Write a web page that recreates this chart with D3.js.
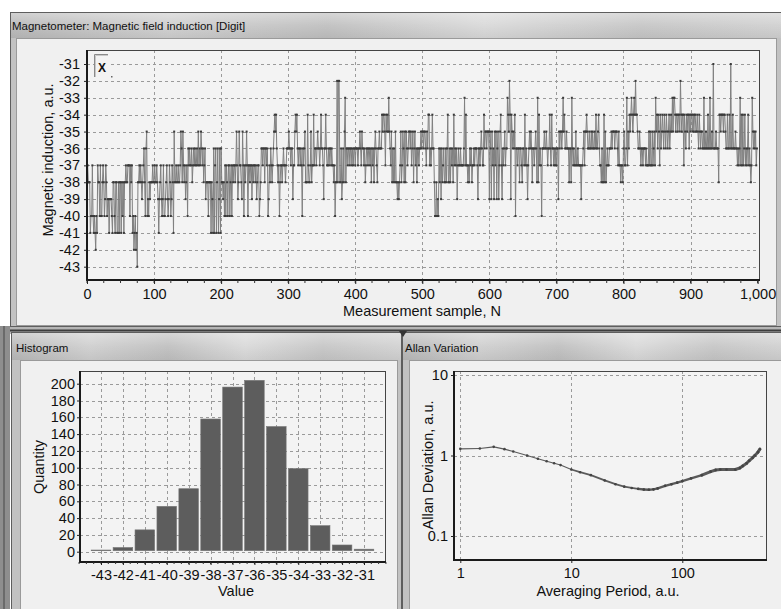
<!DOCTYPE html>
<html><head><meta charset="utf-8">
<script src="https://cdn.jsdelivr.net/npm/d3@7"></script>
<style>
body{margin:0;background:#fff}
svg{display:block}
text{font-family:"Liberation Sans",Arial,sans-serif;fill:#111}
</style>
</head><body>
<svg id="c" width="781" height="609"></svg>
<script>
// ---------- DATA ----------
const samples = [
-37,-37,-38,-38,-38,-41,-40,-40,-37,-40,-41,-40,-41,-42,-40,-41,-37,-38,-38,-40,
-37,-40,-40,-38,-37,-38,-40,-39,-37,-38,-40,-39,-39,-41,-39,-39,-39,-40,-41,-38,
-38,-40,-41,-38,-38,-41,-41,-38,-41,-38,-38,-41,-38,-40,-38,-41,-38,-38,-37,-38,
-38,-37,-37,-37,-40,-37,-38,-37,-41,-40,-42,-41,-40,-42,-41,-43,-38,-38,-37,-38,
-37,-38,-39,-38,-37,-36,-38,-40,-36,-35,-40,-39,-40,-38,-39,-38,-38,-38,-37,-38,
-38,-37,-38,-38,-37,-38,-39,-41,-39,-38,-37,-39,-40,-39,-37,-40,-40,-39,-38,-37,
-39,-40,-39,-37,-38,-40,-39,-37,-38,-41,-35,-38,-38,-37,-38,-38,-37,-38,-38,-37,
-35,-36,-38,-35,-37,-38,-37,-39,-38,-37,-40,-36,-37,-36,-37,-37,-36,-38,-37,-36,
-37,-36,-37,-37,-36,-37,-35,-37,-36,-37,-35,-36,-37,-36,-38,-37,-36,-39,-38,-38,
-38,-40,-38,-38,-38,-41,-38,-39,-41,-36,-41,-37,-36,-41,-38,-36,-41,-39,-36,-41,
-36,-38,-38,-39,-38,-40,-37,-40,-37,-38,-40,-37,-37,-40,-38,-37,-40,-37,-38,-37,
-37,-38,-37,-35,-37,-39,-38,-35,-37,-37,-38,-39,-35,-37,-40,-37,-38,-37,-35,-37,
-40,-37,-37,-38,-37,-37,-39,-37,-38,-37,-37,-38,-37,-39,-38,-37,-37,-40,-39,-38,
-36,-36,-37,-36,-36,-38,-36,-36,-37,-36,-40,-39,-37,-38,-36,-37,-38,-37,-36,-35,
-34,-35,-34,-36,-37,-38,-37,-40,-38,-37,-37,-38,-37,-36,-37,-37,-38,-37,-36,-36,
-36,-35,-36,-36,-37,-36,-36,-39,-37,-37,-35,-34,-35,-34,-36,-37,-36,-36,-37,-36,
-37,-40,-36,-37,-36,-35,-38,-38,-38,-34,-37,-38,-38,-37,-35,-38,-37,-37,-34,-37,
-36,-36,-37,-36,-35,-36,-36,-37,-36,-34,-36,-36,-37,-39,-36,-36,-34,-36,-37,-37,
-36,-37,-36,-36,-37,-36,-37,-37,-38,-37,-40,-38,-38,-32,-38,-32,-32,-38,-38,-36,
-39,-38,-36,-38,-35,-33,-38,-36,-36,-37,-36,-36,-37,-36,-36,-37,-36,-37,-36,-36,
-37,-36,-36,-36,-37,-36,-36,-35,-36,-37,-35,-36,-36,-37,-36,-38,-37,-36,-36,-37,
-36,-36,-37,-36,-38,-36,-37,-36,-38,-36,-35,-36,-37,-38,-36,-36,-35,-36,-36,-36,
-34,-35,-34,-34,-35,-37,-34,-35,-34,-35,-33,-35,-36,-37,-35,-38,-36,-38,-36,-38,
-35,-38,-38,-39,-38,-39,-38,-37,-35,-38,-37,-35,-36,-38,-35,-38,-35,-36,-37,-36,
-35,-35,-36,-35,-37,-36,-35,-38,-36,-35,-37,-36,-38,-36,-36,-37,-36,-36,-35,-36,
-35,-35,-36,-35,-35,-36,-37,-35,-36,-34,-34,-37,-36,-37,-36,-34,-36,-36,-38,-40,
-40,-38,-40,-39,-40,-36,-38,-36,-39,-36,-38,-37,-36,-38,-38,-36,-38,-36,-34,-38,
-38,-36,-38,-36,-37,-36,-38,-34,-37,-36,-37,-36,-39,-37,-36,-37,-37,-36,-37,-37,
-37,-37,-36,-33,-37,-34,-37,-37,-38,-37,-38,-36,-37,-36,-38,-37,-37,-36,-37,-36,
-36,-36,-37,-39,-36,-36,-37,-36,-35,-36,-37,-37,-34,-36,-35,-35,-36,-35,-35,-35,
-39,-35,-36,-39,-35,-37,-36,-39,-35,-37,-35,-39,-36,-35,-39,-37,-35,-34,-37,-39,
-36,-37,-36,-35,-37,-36,-36,-33,-34,-35,-32,-34,-39,-34,-35,-36,-35,-36,-34,-40,
-36,-36,-37,-36,-36,-38,-36,-36,-37,-38,-36,-36,-37,-34,-37,-36,-37,-39,-37,-36,
-35,-36,-35,-36,-38,-36,-36,-37,-36,-35,-36,-38,-33,-38,-34,-37,-36,-37,-40,-36,
-36,-36,-35,-36,-36,-35,-36,-37,-36,-36,-34,-36,-37,-34,-36,-36,-37,-36,-37,-36,
-37,-36,-36,-39,-35,-36,-35,-35,-36,-35,-33,-35,-34,-36,-36,-35,-36,-36,-36,-38,
-36,-36,-38,-33,-36,-37,-36,-37,-37,-35,-37,-37,-36,-37,-37,-37,-37,-39,-37,-37,
-36,-35,-37,-35,-35,-34,-35,-36,-36,-35,-36,-36,-35,-36,-35,-36,-36,-35,-36,-34,
-36,-36,-35,-34,-36,-37,-37,-38,-36,-38,-38,-34,-38,-35,-38,-37,-36,-37,-37,-36,
-36,-36,-35,-36,-35,-35,-35,-36,-35,-35,-35,-36,-37,-35,-37,-37,-38,-37,-37,-38,
-36,-35,-37,-37,-36,-33,-37,-35,-36,-34,-35,-34,-33,-34,-35,-34,-33,-34,-32,-34,
-34,-35,-36,-36,-35,-36,-37,-36,-36,-37,-36,-36,-36,-37,-36,-37,-37,-37,-35,-37,
-35,-37,-37,-35,-37,-36,-35,-37,-33,-35,-34,-36,-34,-35,-37,-34,-36,-35,-34,-35,
-36,-34,-35,-36,-34,-35,-36,-35,-34,-36,-35,-34,-35,-33,-35,-33,-33,-34,-35,-34,
-34,-35,-34,-34,-35,-32,-34,-35,-34,-34,-37,-34,-35,-36,-34,-35,-34,-34,-36,-34,
-35,-34,-34,-35,-34,-35,-34,-34,-35,-35,-34,-35,-36,-34,-35,-36,-35,-35,-36,-36,
-33,-36,-36,-35,-36,-36,-34,-36,-36,-33,-36,-36,-35,-36,-31,-36,-36,-36,-35,-36,
-36,-36,-38,-34,-34,-35,-34,-34,-34,-35,-34,-34,-35,-36,-36,-34,-36,-36,-34,-36,
-31,-36,-36,-34,-36,-36,-36,-35,-36,-36,-37,-36,-37,-36,-33,-37,-34,-37,-34,-37,
-36,-34,-37,-36,-37,-36,-34,-37,-36,-37,-38,-37,-33,-35,-36,-35,-36,-35,-37,-36
];
const sampleTicks = [0,100,200,300,400,500,600,700,800,900,1000];
const levelTicks = [-43,-42,-41,-40,-39,-38,-37,-36,-35,-34,-33,-32,-31];

const histValues = [-43,-42,-41,-40,-39,-38,-37,-36,-35,-34,-33,-32,-31];
const histCounts = [2,5,26,54,75,158,196,204,149,99,31,8,3];
const histCountTicks = [0,20,40,60,80,100,120,140,160,180,200];

const allanTau = [1,1.5,2,2.5,3,4,5,6,7,8,10,12,15,20,25,30,35,40,45,50,55,60,70,80,90,100,120,150,180,200,220,250,300,330,350,380,400,430,450,480,500];
const allanDev = [1.21,1.22,1.28,1.2,1.12,1.0,0.91,0.85,0.8,0.76,0.67,0.62,0.57,0.49,0.44,0.41,0.395,0.385,0.378,0.376,0.38,0.39,0.42,0.44,0.46,0.48,0.52,0.57,0.63,0.66,0.67,0.67,0.67,0.7,0.74,0.8,0.86,0.94,1.0,1.1,1.2];
const allanXTicks = [1,10,100];
const allanYTicks = [0.1,1,10];

// ---------- CHROME ----------
const svg = d3.select("#c");
const defs = svg.append("defs");
const tg = defs.append("linearGradient").attr("id","tbar").attr("x1","0").attr("x2","1").attr("y1","0").attr("y2","0");
[[0,"#b9b9b9"],[0.2,"#cfcfcf"],[0.4,"#c0c0c0"],[0.6,"#d9d9d9"],[0.8,"#c6c6c6"],[1,"#d2d2d2"]]
  .forEach(s=>tg.append("stop").attr("offset",s[0]).attr("stop-color",s[1]));
const tv = defs.append("linearGradient").attr("id","tshade").attr("x1","0").attr("x2","0").attr("y1","0").attr("y2","1");
[[0,"#ffffff",0.35],[0.5,"#ffffff",0.05],[1,"#000000",0.05]]
  .forEach(s=>tv.append("stop").attr("offset",s[0]).attr("stop-color",s[1]).attr("stop-opacity",s[2]));

function win(x,y,w,h,title,cx,cy,cw,ch){
  svg.append("rect").attr("x",x+0.5).attr("y",y+0.5).attr("width",w).attr("height",h)
    .attr("fill","#c2c2c2").attr("stroke","#5e5e5e");
  svg.append("rect").attr("x",x+1).attr("y",y+1).attr("width",w-1).attr("height",cy-y-1).attr("fill","url(#tbar)");
  svg.append("rect").attr("x",x+1).attr("y",y+1).attr("width",w-1).attr("height",cy-y-1).attr("fill","url(#tshade)");
  svg.append("text").attr("x",x+4+ (cx-x-8)).attr("y",cy-8).attr("font-size",11.5).attr("fill","#1a1a1a").text(title);
  svg.append("rect").attr("x",cx+0.5).attr("y",cy+0.5).attr("width",cw).attr("height",ch)
    .attr("fill","#f0f0f0").attr("stroke","#9a9a9a");
}
// left dark strip (bottom part)
svg.append("rect").attr("x",0).attr("y",326).attr("width",10).attr("height",283).attr("fill","#8e8e8e");
svg.append("rect").attr("x",3).attr("y",326).attr("width",2).attr("height",283).attr("fill","#6a6a6a");
// splitter band
svg.append("rect").attr("x",10).attr("y",324).attr("width",771).attr("height",10).attr("fill","#b5b5b5");
svg.append("line").attr("x1",10).attr("x2",781).attr("y1",330.5).attr("y2",330.5).attr("stroke","#3c3c3c").attr("stroke-width",2);

win(10,12,790,314,"Magnetometer: Magnetic field induction [Digit]",16,38,760,287);
win(11,332,390,290,"Histogram",20,360,377,260);
win(402,332,390,290,"Allan Variation",409,360,380,260);
svg.append("path").attr("d","M399,331 L407,331 L403,337 Z").attr("fill","#333");

const FONT = 14.5;
function styleAxis(g){
  g.selectAll("text").attr("font-size",FONT).attr("fill","#111").attr("font-family","Liberation Sans, Arial, sans-serif");
  g.selectAll("line").attr("stroke","#222");
  g.select(".domain").remove();
}
function frame(l,t,r,b){
  svg.append("line").attr("x1",l).attr("x2",r).attr("y1",t+0.5).attr("y2",t+0.5).attr("stroke","#444");
  svg.append("line").attr("x1",r-0.5).attr("x2",r-0.5).attr("y1",t).attr("y2",b).attr("stroke","#444");
  svg.append("line").attr("x1",l).attr("x2",l).attr("y1",t).attr("y2",b+1).attr("stroke","#1a1a1a").attr("stroke-width",2);
  svg.append("line").attr("x1",l-1).attr("x2",r).attr("y1",b).attr("y2",b).attr("stroke","#1a1a1a").attr("stroke-width",2);
}
const gridStyle = s => s.attr("stroke","#9a9a9a").attr("stroke-width",1).attr("stroke-dasharray","3,3");

// ---------- TOP: time series ----------
{
  const L=87,T=50,R=760,B=280;
  const x = d3.scaleLinear().domain([0,1000]).range([87,757.6]);
  const y = d3.scaleLinear().domain([-43,-31]).range([266.7,64]);
  svg.append("rect").attr("x",L).attr("y",T).attr("width",R-L).attr("height",B-T).attr("fill","#f3f3f3");
  const g = svg.append("g");
  levelTicks.forEach(v=>g.append("line").attr("x1",L).attr("x2",R).attr("y1",Math.round(y(v))+0.5).attr("y2",Math.round(y(v))+0.5).call(gridStyle));
  sampleTicks.slice(1,-1).forEach(v=>g.append("line").attr("x1",Math.round(x(v))+0.5).attr("x2",Math.round(x(v))+0.5).attr("y1",T).attr("y2",B).call(gridStyle));
  const line = d3.line().x((d,i)=>x(i)).y(d=>y(d));
  svg.append("path").datum(samples).attr("d",line).attr("fill","none").attr("stroke","#808080").attr("stroke-width",1);
  svg.append("g").selectAll("rect").data(samples).join("rect")
    .attr("x",(d,i)=>x(i)-1).attr("y",d=>y(d)-1).attr("width",2).attr("height",2).attr("fill","#3a3a3a");
  frame(L,T,R,B);
  // minor ticks
  const minor = d3.range(0,1001,25);
  svg.append("g").selectAll("line").data(minor).join("line")
    .attr("x1",d=>x(d)).attr("x2",d=>x(d)).attr("y1",B).attr("y2",B+3).attr("stroke","#333");
  const ax = svg.append("g").attr("transform",`translate(0,${B})`)
    .call(d3.axisBottom(x).tickValues(sampleTicks).tickFormat(d3.format(",")).tickSize(4).tickPadding(5));
  styleAxis(ax);
  const ay = svg.append("g").attr("transform",`translate(${L},0)`)
    .call(d3.axisLeft(y).tickValues(levelTicks).tickFormat(d3.format("d")).tickSize(3).tickPadding(4));
  styleAxis(ay);
  ay.selectAll("text").text(d=>String(d).replace("\u2212","-"));
  svg.append("text").attr("x",422).attr("y",316).attr("text-anchor","middle").attr("font-size",FONT).text("Measurement sample, N");
  svg.append("text").attr("transform","translate(53,160) rotate(-90)").attr("text-anchor","middle").attr("font-size",FONT).text("Magnetic induction, a.u.");
  // legend box
  svg.append("rect").attr("x",94).attr("y",54).attr("width",14).attr("height",23).attr("fill","#f3f3f3");
  svg.append("path").attr("d","M94.5,77 L94.5,54.5 L108,54.5").attr("fill","none").attr("stroke","#8a8a8a");
  svg.append("path").attr("d","M95.5,77 L95.5,55.5 L108,55.5").attr("fill","none").attr("stroke","#c8c8c8");
  svg.append("text").attr("x",102).attr("y",72).attr("text-anchor","middle").attr("font-size",12).attr("font-weight","bold").text("X");
  svg.append("rect").attr("x",111).attr("y",76).attr("width",1.5).attr("height",1.5).attr("fill","#666");
}

// ---------- HISTOGRAM ----------
{
  const L=80,T=371,R=386,B=562;
  const x = d3.scaleLinear().domain([-43,-31]).range([101,364]);
  const y = d3.scaleLinear().domain([0,200]).range([551.7,383.7]);
  svg.append("rect").attr("x",L).attr("y",T).attr("width",R-L).attr("height",B-T).attr("fill","#f3f3f3");
  const g = svg.append("g");
  histCountTicks.forEach(v=>g.append("line").attr("x1",L).attr("x2",R).attr("y1",Math.round(y(v))+0.5).attr("y2",Math.round(y(v))+0.5).call(gridStyle));
  histValues.forEach(v=>g.append("line").attr("x1",Math.round(x(v))+0.5).attr("x2",Math.round(x(v))+0.5).attr("y1",T).attr("y2",B).call(gridStyle));
  const bw = 19.6;
  svg.append("g").selectAll("rect").data(histValues).join("rect")
    .attr("x",d=>x(d)-bw/2).attr("width",bw)
    .attr("y",(d,i)=>y(histCounts[i])).attr("height",(d,i)=>y(0)-1-y(histCounts[i]))
    .attr("fill","#5d5d5d").attr("stroke","#777").attr("stroke-width",0.6);
  frame(L,T,R,B);
  const minor = d3.range(-44,-29.9,1/3);
  svg.append("g").selectAll("line").data(minor).join("line")
    .attr("x1",d=>x(d)).attr("x2",d=>x(d)).attr("y1",B).attr("y2",B+2).attr("stroke","#333");
  const ax = svg.append("g").attr("transform",`translate(0,${B})`)
    .call(d3.axisBottom(x).tickValues(histValues).tickFormat(d=>String(d)).tickSize(3).tickPadding(5));
  styleAxis(ax);
  const ay = svg.append("g").attr("transform",`translate(${L},0)`)
    .call(d3.axisLeft(y).tickValues(histCountTicks).tickFormat(d3.format("d")).tickSize(3).tickPadding(2));
  styleAxis(ay);
  svg.append("text").attr("x",236).attr("y",596).attr("text-anchor","middle").attr("font-size",FONT).text("Value");
  svg.append("text").attr("transform","translate(44,467) rotate(-90)").attr("text-anchor","middle").attr("font-size",FONT).text("Quantity");
}

// ---------- ALLAN ----------
{
  const L=454,T=371,R=767,B=560;
  const x = d3.scaleLog().domain([1,100]).range([460.3,682.3]);
  const y = d3.scaleLog().domain([0.1,10]).range([536,375]);
  svg.append("rect").attr("x",L).attr("y",T).attr("width",R-L).attr("height",B-T).attr("fill","#f3f3f3");
  const g = svg.append("g");
  allanYTicks.forEach(v=>g.append("line").attr("x1",L).attr("x2",R).attr("y1",Math.round(y(v))+0.5).attr("y2",Math.round(y(v))+0.5).call(gridStyle));
  allanXTicks.forEach(v=>g.append("line").attr("x1",Math.round(x(v))+0.5).attr("x2",Math.round(x(v))+0.5).attr("y1",T).attr("y2",B).call(gridStyle));
  const pts = allanTau.map((t,i)=>[t,allanDev[i]]);
  const segs = svg.append("g");
  for(let i=0;i<pts.length-1;i++){
    const t = pts[i][0];
    segs.append("line").attr("x1",x(pts[i][0])).attr("y1",y(pts[i][1]))
      .attr("x2",x(pts[i+1][0])).attr("y2",y(pts[i+1][1]))
      .attr("stroke","#5a5a5a").attr("stroke-linecap","round")
      .attr("stroke-width", t<10?1.1 : t<40?1.8 : t<150?2.4 : 3);
  }
  svg.append("g").selectAll("circle").data(pts).join("circle")
    .attr("cx",d=>x(d[0])).attr("cy",d=>y(d[1])).attr("r",1.3).attr("fill","#444");
  frame(L,T,R,B);
  const ax = svg.append("g").attr("transform",`translate(0,${B})`)
    .call(d3.axisBottom(x).tickValues(allanXTicks).tickFormat(d3.format("d")).tickSize(3).tickPadding(5));
  styleAxis(ax);
  const ay = svg.append("g").attr("transform",`translate(${L},0)`)
    .call(d3.axisLeft(y).tickValues(allanYTicks).tickFormat(d=>String(d)).tickSize(3).tickPadding(3));
  styleAxis(ay);
  svg.append("text").attr("x",608).attr("y",596).attr("text-anchor","middle").attr("font-size",FONT).text("Averaging Period, a.u.");
  svg.append("text").attr("transform","translate(433,465) rotate(-90)").attr("text-anchor","middle").attr("font-size",FONT).text("Allan Deviation, a.u.");
}
</script>
</body></html>
